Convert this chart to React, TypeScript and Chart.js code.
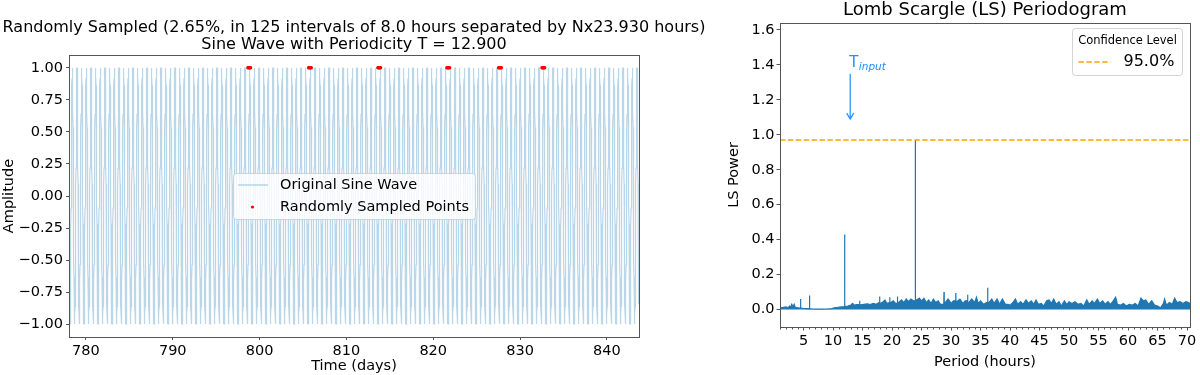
import React, { useEffect, useRef } from "react";
import { Chart, registerables } from "chart.js";
Chart.register(...registerables);

const FONT = "'DejaVu Sans', 'Liberation Sans', sans-serif";

// ---------------- Left panel data ----------------
const SINE_PERIOD_HOURS = 12.9;
const TIME_RANGE = [778.05, 843.7]; // days
const leftXTicks = [780, 790, 800, 810, 820, 830, 840];
const leftYTicks = [-1, -0.75, -0.5, -0.25, 0, 0.25, 0.5, 0.75, 1];
const sampledTimes = [
  798.65, 798.73, 798.81, 798.89, 798.97,
  805.64, 805.72, 805.8, 805.88, 805.96,
  813.62, 813.7, 813.78, 813.86, 813.94,
  821.57, 821.65, 821.73, 821.81, 821.89,
  827.53, 827.61, 827.69, 827.77, 827.85,
  832.52, 832.6, 832.68, 832.76, 832.84,
];
const sampledValues = [
  1, 1, 1, 1, 1,
  1, 1, 1, 1, 1,
  1, 1, 1, 1, 1,
  1, 1, 1, 1, 1,
  1, 1, 1, 1, 1,
  1, 1, 1, 1, 1,
];
const leftTitle = [
  "Randomly Sampled (2.65%, in 125 intervals of 8.0 hours separated by Nx23.930 hours)",
  "Sine Wave with Periodicity T = 12.900",
];

// ---------------- Right panel data ----------------
const rightXRange = [1.0, 70.5];
const rightYRange = [-0.1, 1.64];
const rightXTicks = [5, 10, 15, 20, 25, 30, 35, 40, 45, 50, 55, 60, 65, 70];
const rightYTicks = [0, 0.2, 0.4, 0.6, 0.8, 1.0, 1.2, 1.4, 1.6];
const CONFIDENCE_95 = 0.97;
const T_INPUT = 12.9;
const lsPeriods = [
  1.0, 1.2, 1.6, 2.0, 2.4, 2.6, 2.8, 3.0, 3.2, 3.4, 3.6, 4.0, 4.4, 4.46, 4.5, 4.54, 4.6, 5.0, 5.5, 5.9, 5.96, 6.0, 6.04, 6.1,
  6.5, 7.0, 8.0, 9.0, 9.8, 10.2, 10.8, 11.4, 11.9, 11.93, 11.97, 12.01, 12.05, 12.5, 13.0, 13.3, 13.6, 14.0, 14.46, 14.5, 14.54,
  14.7, 15.2, 15.8, 16.3, 16.8, 17.3, 17.8, 17.86, 17.9, 17.94, 18.0, 18.5, 18.8, 19.1, 19.56, 19.6, 19.64, 19.8, 20.2, 20.6,
  20.86, 20.9, 20.94, 21.1, 21.6, 22.0, 22.4, 22.8, 23.2, 23.6, 23.89, 23.93, 23.97, 24.2, 24.6, 25.0, 25.4, 25.8, 26.2, 26.6,
  27.0, 27.4, 27.8, 28.2, 28.76, 28.8, 28.84, 29.0, 29.5, 30.0, 30.4, 30.76, 30.8, 30.84, 31.0, 31.5, 32.0, 32.4, 32.76, 32.8,
  32.84, 33.0, 33.5, 34.0, 34.3, 34.6, 35.0, 35.5, 36.0, 36.16, 36.2, 36.24, 36.4, 36.9, 37.3, 37.8, 38.2, 38.7, 39.2, 39.6,
  40.0, 40.5, 40.9, 41.3, 41.8, 42.2, 42.7, 43.1, 43.6, 44.0, 44.4, 44.8, 45.3, 45.7, 46.2, 46.6, 47.0, 47.4, 47.8, 48.3,
  48.7, 49.2, 49.6, 50.0, 50.5, 51.0, 51.5, 52.0, 52.5, 53.0, 53.4, 53.9, 54.3, 54.8, 55.2, 55.7, 56.1, 56.6, 57.0, 57.5,
  57.9, 58.2, 58.7, 59.2, 59.7, 60.2, 60.7, 61.2, 61.7, 62.2, 62.6, 63.0, 63.5, 64.0, 64.5, 65.0, 65.5, 66.0, 66.2, 66.5,
  67.0, 67.5, 67.9, 68.3, 68.8, 69.3, 69.8, 70.3, 70.5,
];
const lsPower = [
  0.0, 0.01, 0.012, 0.015, 0.01, 0.02, 0.012, 0.03, 0.015, 0.03, 0.012, 0.01, 0.008, 0.008, 0.06, 0.008, 0.008, 0.006, 0.005, 0.005, 0.005, 0.08, 0.004, 0.004,
  0.003, 0.002, 0.002, 0.003, 0.005, 0.01, 0.012, 0.015, 0.015, 0.015, 0.43, 0.018, 0.018, 0.02, 0.025, 0.035, 0.025, 0.028, 0.028, 0.05, 0.027,
  0.027, 0.03, 0.032, 0.028, 0.035, 0.03, 0.04, 0.04, 0.075, 0.035, 0.035, 0.045, 0.055, 0.035, 0.04, 0.07, 0.04, 0.04, 0.05, 0.035,
  0.035, 0.075, 0.04, 0.04, 0.055, 0.04, 0.06, 0.045, 0.06, 0.05, 0.05, 0.97, 0.055, 0.055, 0.065, 0.05, 0.065, 0.04, 0.055, 0.035,
  0.06, 0.04, 0.05, 0.03, 0.03, 0.1, 0.04, 0.04, 0.06, 0.035, 0.05, 0.05, 0.095, 0.04, 0.04, 0.06, 0.035, 0.05, 0.05, 0.085,
  0.04, 0.04, 0.06, 0.04, 0.07, 0.035, 0.05, 0.03, 0.04, 0.04, 0.125, 0.04, 0.04, 0.06, 0.035, 0.06, 0.03, 0.06, 0.03, 0.03,
  0.025, 0.04, 0.06, 0.03, 0.045, 0.03, 0.055, 0.035, 0.05, 0.03, 0.055, 0.03, 0.035, 0.02, 0.05, 0.055, 0.035, 0.06, 0.03, 0.045,
  0.02, 0.05, 0.03, 0.045, 0.035, 0.045, 0.03, 0.035, 0.02, 0.055, 0.03, 0.05, 0.035, 0.06, 0.035, 0.05, 0.03, 0.045, 0.03, 0.05,
  0.07, 0.03, 0.025, 0.035, 0.02, 0.03, 0.025, 0.035, 0.02, 0.065, 0.05, 0.055, 0.03, 0.05, 0.025, 0.02, 0.01, 0.035, 0.06, 0.025,
  0.04, 0.03, 0.065, 0.04, 0.045, 0.035, 0.045, 0.04, 0.03,
];

const SPINE = "#555";
const BLUE = "#1f77b4";
const LIGHT_BLUE = "rgba(31,119,180,0.3)";
const TICK_SIZE = 14.5;

function fmtMinus(s: string) {
  return s.replace("-", "\u2212");
}

function drawBox(ctx: CanvasRenderingContext2D, x: number, y: number, w: number, h: number, r: number, fill: string, stroke: string) {
  ctx.beginPath();
  ctx.moveTo(x + r, y);
  ctx.lineTo(x + w - r, y);
  ctx.quadraticCurveTo(x + w, y, x + w, y + r);
  ctx.lineTo(x + w, y + h - r);
  ctx.quadraticCurveTo(x + w, y + h, x + w - r, y + h);
  ctx.lineTo(x + r, y + h);
  ctx.quadraticCurveTo(x, y + h, x, y + h - r);
  ctx.lineTo(x, y + r);
  ctx.quadraticCurveTo(x, y, x + r, y);
  ctx.closePath();
  ctx.fillStyle = fill;
  ctx.fill();
  ctx.strokeStyle = stroke;
  ctx.lineWidth = 1;
  ctx.stroke();
}

const leftPlugin = {
  id: "leftDecor",
  afterDraw(chart: any) {
    const ctx = chart.ctx as CanvasRenderingContext2D;
    const a = chart.chartArea;
    ctx.save();
    // spines
    ctx.strokeStyle = SPINE;
    ctx.lineWidth = 1;
    ctx.strokeRect(Math.round(a.left) + 0.5, Math.round(a.top) + 0.5, Math.round(a.right - a.left), Math.round(a.bottom - a.top));
    // titles
    ctx.fillStyle = "#000";
    ctx.textAlign = "center";
    ctx.textBaseline = "middle";
    ctx.font = `16px ${FONT}`;
    const cx = (a.left + a.right) / 2;
    ctx.fillText(leftTitle[0], cx, 28);
    ctx.fillText(leftTitle[1], cx, 45);
    // legend
    drawBox(ctx, 233.5, 173.5, 242, 46, 3, "rgba(255,255,255,0.82)", "rgba(204,204,204,0.85)");
    ctx.strokeStyle = LIGHT_BLUE;
    ctx.lineWidth = 1.5;
    ctx.beginPath();
    ctx.moveTo(238, 185);
    ctx.lineTo(268, 185);
    ctx.stroke();
    ctx.fillStyle = "red";
    ctx.beginPath();
    ctx.arc(252.5, 207, 1.6, 0, Math.PI * 2);
    ctx.fill();
    ctx.fillStyle = "#000";
    ctx.textAlign = "left";
    ctx.font = `14.5px ${FONT}`;
    ctx.fillText("Original Sine Wave", 280, 185);
    ctx.fillText("Randomly Sampled Points", 280, 207);
    ctx.restore();
  },
};

const rightPlugin = {
  id: "rightDecor",
  afterDraw(chart: any) {
    const ctx = chart.ctx as CanvasRenderingContext2D;
    const a = chart.chartArea;
    const xs = chart.scales.x;
    const ys = chart.scales.y;
    ctx.save();
    ctx.strokeStyle = SPINE;
    ctx.lineWidth = 1;
    ctx.strokeRect(Math.round(a.left) + 0.5, Math.round(a.top) + 0.5, Math.round(a.right - a.left), Math.round(a.bottom - a.top));
    // minor ticks
    ctx.beginPath();
    for (let v = Math.ceil(rightXRange[0]); v <= rightXRange[1]; v++) {
      if (v % 5 === 0) continue;
      const px = Math.round(xs.getPixelForValue(v)) + 0.5;
      ctx.moveTo(px, Math.round(a.bottom) + 0.5);
      ctx.lineTo(px, Math.round(a.bottom) + 2.5);
    }
    ctx.stroke();
    // title
    ctx.fillStyle = "#000";
    ctx.textAlign = "center";
    ctx.textBaseline = "middle";
    ctx.font = `18px ${FONT}`;
    ctx.fillText("Lomb Scargle (LS) Periodogram", (a.left + a.right) / 2, 10);
    // T_input annotation
    const ax = xs.getPixelForValue(T_INPUT);
    const yTop = ys.getPixelForValue(1.35);
    const yTip = ys.getPixelForValue(1.09);
    const color = "#1e90ff";
    ctx.strokeStyle = color;
    ctx.lineWidth = 1.2;
    ctx.beginPath();
    ctx.moveTo(ax, yTop);
    ctx.lineTo(ax, yTip);
    ctx.moveTo(ax - 3.5, yTip - 6);
    ctx.lineTo(ax, yTip);
    ctx.lineTo(ax + 3.5, yTip - 6);
    ctx.stroke();
    ctx.fillStyle = color;
    ctx.textAlign = "left";
    ctx.textBaseline = "alphabetic";
    const ty = ys.getPixelForValue(1.39);
    ctx.font = `15px ${FONT}`;
    ctx.fillText("T", ax - 1, ty);
    const tw = ctx.measureText("T").width;
    ctx.font = `italic 10.5px ${FONT}`;
    ctx.fillText("input", ax - 1 + tw + 0.5, ty + 3);
    // legend
    const lx = 372.5;
    const ly = 28.5;
    drawBox(ctx, lx, ly, 110, 47, 3, "rgba(255,255,255,0.85)", "rgba(204,204,204,0.85)");
    ctx.fillStyle = "#000";
    ctx.textAlign = "center";
    ctx.textBaseline = "middle";
    ctx.font = `11.5px ${FONT}`;
    ctx.fillText("Confidence Level", lx + 55, 41);
    ctx.strokeStyle = "orange";
    ctx.lineWidth = 1.5;
    ctx.setLineDash([5.5, 2.4]);
    ctx.beginPath();
    ctx.moveTo(lx + 6, 62);
    ctx.lineTo(lx + 38, 62);
    ctx.stroke();
    ctx.setLineDash([]);
    ctx.textAlign = "left";
    ctx.font = `16px ${FONT}`;
    ctx.fillText("95.0%", lx + 51, 62);
    ctx.restore();
  },
};

function tickFont(size = TICK_SIZE) {
  return { family: FONT, size };
}

export default function App() {
  const leftRef = useRef<HTMLCanvasElement>(null);
  const rightRef = useRef<HTMLCanvasElement>(null);

  useEffect(() => {
    const periodDays = SINE_PERIOD_HOURS / 24;
    const sine: { x: number; y: number }[] = [];
    const step = periodDays / 40;
    for (let t = TIME_RANGE[0]; t <= TIME_RANGE[1]; t += step) {
      sine.push({ x: t, y: Math.sin((2 * Math.PI * t) / periodDays) });
    }
    const samples = sampledTimes.map((t, i) => ({ x: t, y: sampledValues[i] }));

    const left = new Chart(leftRef.current!, {
      type: "line",
      data: {
        datasets: [
          {
            label: "Randomly Sampled Points",
            data: samples,
            showLine: false,
            pointRadius: 1.7,
            pointBackgroundColor: "red",
            pointBorderWidth: 0,
            borderColor: "red",
          },
          {
            label: "Original Sine Wave",
            data: sine,
            borderColor: LIGHT_BLUE,
            borderWidth: 1.2,
            pointRadius: 0,
            tension: 0,
          },
        ],
      },
      options: {
        responsive: false,
        maintainAspectRatio: false,
        animation: false,
        parsing: false,
        normalized: true,
        events: [],
        layout: { padding: { left: 0, right: 81, top: 55, bottom: 0 } },
        plugins: { legend: { display: false }, title: { display: false }, tooltip: { enabled: false } },
        scales: {
          x: {
            type: "linear",
            min: TIME_RANGE[0],
            max: TIME_RANGE[1],
            afterBuildTicks: (s: any) => {
              s.ticks = leftXTicks.map((v) => ({ value: v }));
            },
            afterFit: (s: any) => {
              s.height = 38;
            },
            grid: { drawOnChartArea: false, color: SPINE, tickLength: 3 },
            border: { display: false },
            ticks: { font: tickFont(), color: "#000", padding: 3, maxRotation: 0, autoSkip: false, callback: (v: any) => String(v) },
            title: { display: true, text: "Time (days)", font: tickFont(), color: "#000", padding: { top: 0, bottom: 0 } },
          },
          y: {
            type: "linear",
            min: -1.1,
            max: 1.1,
            afterBuildTicks: (s: any) => {
              s.ticks = leftYTicks.map((v) => ({ value: v }));
            },
            afterFit: (s: any) => {
              s.width = 69;
            },
            grid: { drawOnChartArea: false, color: SPINE, tickLength: 3 },
            border: { display: false },
            ticks: { font: tickFont(), color: "#000", padding: 3, autoSkip: false, callback: (v: any) => fmtMinus(Number(v).toFixed(2)) },
            title: { display: true, text: "Amplitude", font: tickFont(), color: "#000", padding: { top: 1, bottom: 0 } },
          },
        },
      },
      plugins: [leftPlugin],
    } as any);

    const ls = lsPeriods.map((p, i) => ({ x: p, y: lsPower[i] }));
    const right = new Chart(rightRef.current!, {
      type: "line",
      data: {
        datasets: [
          {
            label: "95.0%",
            data: [
              { x: rightXRange[0], y: CONFIDENCE_95 },
              { x: rightXRange[1], y: CONFIDENCE_95 },
            ],
            borderColor: "orange",
            borderWidth: 1.5,
            borderDash: [5.5, 2.4],
            pointRadius: 0,
          },
          {
            label: "LS",
            data: ls,
            borderColor: BLUE,
            backgroundColor: BLUE,
            borderWidth: 1.2,
            pointRadius: 0,
            tension: 0,
            fill: "origin",
          },
        ],
      },
      options: {
        responsive: false,
        maintainAspectRatio: false,
        animation: false,
        parsing: false,
        events: [],
        layout: { padding: { left: 0, right: 10, top: 23, bottom: 0 } },
        plugins: { legend: { display: false }, title: { display: false }, tooltip: { enabled: false }, filler: { propagate: false } },
        scales: {
          x: {
            type: "linear",
            min: rightXRange[0],
            max: rightXRange[1],
            afterBuildTicks: (s: any) => {
              s.ticks = rightXTicks.map((v) => ({ value: v }));
            },
            afterFit: (s: any) => {
              s.height = 48;
            },
            grid: { drawOnChartArea: false, color: SPINE, tickLength: 3.5 },
            border: { display: false },
            ticks: { font: tickFont(), color: "#000", padding: 2, maxRotation: 0, autoSkip: false, callback: (v: any) => String(v) },
            title: { display: true, text: "Period (hours)", font: tickFont(), color: "#000", padding: { top: 0, bottom: 4 } },
          },
          y: {
            type: "linear",
            min: rightYRange[0],
            max: rightYRange[1],
            afterBuildTicks: (s: any) => {
              s.ticks = rightYTicks.map((v) => ({ value: v }));
            },
            afterFit: (s: any) => {
              s.width = 80;
            },
            grid: { drawOnChartArea: false, color: SPINE, tickLength: 3.5 },
            border: { display: false },
            ticks: { font: tickFont(), color: "#000", padding: 2, autoSkip: false, callback: (v: any) => Number(v).toFixed(1) },
            title: { display: true, text: "LS Power", font: tickFont(), color: "#000", padding: { top: 26, bottom: 0 } },
          },
        },
      },
      plugins: [rightPlugin],
    } as any);

    return () => {
      left.destroy();
      right.destroy();
    };
  }, []);

  return (
    <div style={{ position: "fixed", left: 0, top: 0, width: 1200, height: 375, background: "#fff" }}>
      <canvas ref={leftRef} width={720} height={375} style={{ position: "absolute", left: 0, top: 0, width: 720, height: 375 }} />
      <canvas ref={rightRef} width={500} height={375} style={{ position: "absolute", left: 700, top: 0, width: 500, height: 375 }} />
    </div>
  );
}
